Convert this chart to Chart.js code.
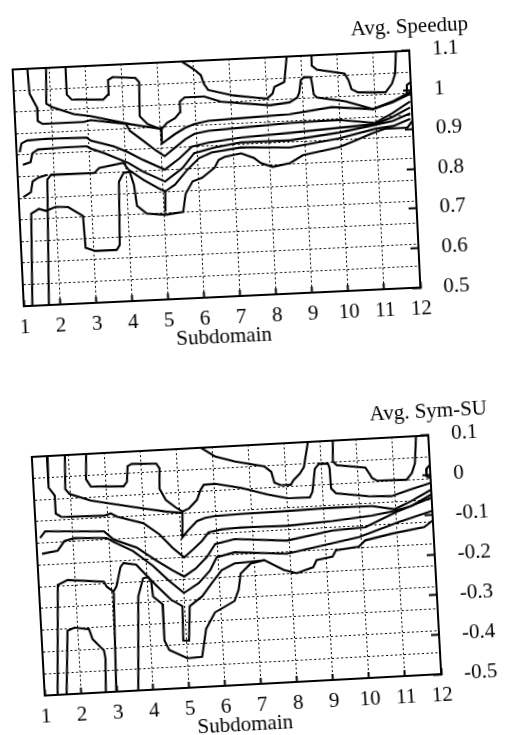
<!DOCTYPE html>
<html><head><meta charset="utf-8">
<script src="https://cdn.jsdelivr.net/npm/chart.js@4.4.1/dist/chart.umd.min.js"></script>
<style>
html,body{margin:0;padding:0;background:#fff;width:505px;height:735px;overflow:hidden;position:relative;}
.wrap{position:absolute;left:0;top:0;}
canvas{display:block;}
</style></head><body>
<div class="wrap" id="w1"><canvas id="c1" width="483" height="338"></canvas></div>
<div class="wrap" id="w2"><canvas id="c2" width="483" height="340"></canvas></div>
<script>
// ---- axes / ticks ----
const subdomains = [1,2,3,4,5,6,7,8,9,10,11,12];
const speedupTicks = [0.5,0.6,0.7,0.8,0.9,1.0,1.1];
const speedupTickLabels = ['0.5','0.6','0.7','0.8','0.9','1','1.1'];
const symTicks = [-0.5,-0.4,-0.3,-0.2,-0.1,0,0.1];
const symTickLabels = ['-0.5','-0.4','-0.3','-0.2','-0.1','0','0.1'];

// ---- Avg. Speedup contour lines [subdomain, value] ----
const spLine1 = [[5.67,1.1],[6.01,1.078],[6.2,1.062],[6.27,1.04],[6.38,1.024],[7.08,1.007],[7.67,0.999],[8.0,0.995],[8.16,1.007],[8.22,1.024],[8.5,1.035],[8.6,1.1]];
const spLine2 = [[9.29,1.1],[9.28,1.073],[9.42,1.062],[10.18,1.049],[10.28,1.032],[10.35,1.009],[10.53,1.0],[11.29,0.997],[11.48,1.018],[11.58,1.043],[11.63,1.1]];
const spLine3 = [[2.46,1.1],[2.46,1.029],[2.59,1.016],[3.46,1.012],[3.6,1.024],[3.62,1.061],[3.75,1.068],[4.38,1.063],[4.48,1.052],[4.45,0.966],[4.66,0.945],[4.93,0.934],[5.04,0.931],[5.2,0.946],[5.43,0.957],[5.57,0.971],[5.58,0.998],[5.72,1.008],[6.26,1.008],[6.72,0.993],[8.07,0.978],[8.62,0.983],[8.84,0.994],[8.9,1.006],[8.96,1.038],[9.05,1.045],[9.24,1.044],[9.26,1.032],[9.3,1.0],[9.38,0.992],[10.17,0.979],[10.92,0.956],[11.47,0.971],[12,0.991]];
const spLine4 = [[1.92,1.1],[1.88,1.009],[2.04,0.999],[2.63,0.979],[3.09,0.972],[4.17,0.947],[4.66,0.938],[5.04,0.931],[5.03,0.894],[5.41,0.917],[5.69,0.931],[5.96,0.94],[6.35,0.946],[7.24,0.949],[8.61,0.953],[9.78,0.966],[10.92,0.956],[11.47,0.973],[12,0.996]];
const spLine5 = [[1.4,1.1],[1.43,1.036],[1.63,0.998],[1.62,0.966],[1.75,0.958],[2.9,0.958],[3.09,0.962],[4.06,0.948],[4.16,0.93],[4.51,0.904],[4.85,0.878],[5.09,0.862],[5.4,0.883],[5.68,0.902],[5.95,0.915],[6.34,0.921],[7.24,0.925],[8.6,0.931],[9.96,0.933],[10.96,0.921],[11.46,0.944],[11.96,0.971]];
const spLine6 = [[1.08,0.889],[1.14,0.911],[1.3,0.918],[1.88,0.92],[2.96,0.918],[3.07,0.91],[3.69,0.893],[4.09,0.876],[4.49,0.855],[5.08,0.828],[5.5,0.855],[5.86,0.883],[6.33,0.891],[7.23,0.9],[8.59,0.906],[9.95,0.913],[10.96,0.918],[11.46,0.934],[11.95,0.956]];
const spLine7 = [[1.15,0.857],[1.37,0.863],[1.43,0.885],[1.59,0.894],[2.33,0.896],[2.95,0.896],[3.06,0.89],[3.41,0.877],[4.08,0.849],[4.48,0.825],[5.07,0.798],[5.57,0.83],[5.91,0.866],[6.48,0.878],[7.22,0.888],[8.58,0.887],[9.95,0.901],[10.96,0.916],[11.46,0.924],[11.95,0.941]];
const spLine8 = [[1.69,0.5],[1.81,0.817],[1.92,0.829],[3.12,0.828],[3.26,0.84],[3.94,0.85],[4.07,0.832],[4.47,0.805],[4.87,0.782],[5.06,0.773],[5.04,0.722],[5.06,0.773],[5.34,0.789],[5.7,0.825],[6.04,0.853],[6.4,0.866],[7.22,0.875],[8.57,0.869],[9.94,0.886],[10.95,0.906],[11.46,0.911],[11.94,0.927]];
const spLine9 = [[1.23,0.5],[1.32,0.733],[1.54,0.744],[1.73,0.738],[2.0,0.747],[2.35,0.745],[2.75,0.721],[2.78,0.64],[3.05,0.631],[3.64,0.631],[3.73,0.643],[3.79,0.803],[3.93,0.825],[4.1,0.827],[4.2,0.794],[4.26,0.74],[4.52,0.719],[5.04,0.714],[5.53,0.719],[5.62,0.764],[5.83,0.795],[6.1,0.803],[6.46,0.827],[6.58,0.846],[6.75,0.853],[7.21,0.86],[7.56,0.847],[7.75,0.833],[8.07,0.822],[8.56,0.83],[8.92,0.848],[9.93,0.864],[10.4,0.879],[10.84,0.894],[11.23,0.905],[11.85,0.905],[12,0.922]];
const spLine10 = [[1.12,0.775],[1.34,0.787],[1.4,0.814],[1.57,0.823],[1.82,0.829]];
const spLine11 = [[12,1.02],[11.89,1.013],[11.88,0.991],[12,0.988]];

// ---- Avg. Sym-SU contour lines [subdomain, value] ----
const ssLine1 = [[5.67,0.1],[6.07,0.075],[6.6,0.06],[7.41,0.044],[7.6,0.029],[7.67,0.002],[7.83,-0.005],[8.12,-0.006],[8.2,0.005],[8.39,0.021],[8.51,0.037],[8.66,0.1]];
const ssLine2 = [[9.35,0.1],[9.32,0.047],[9.42,0.037],[10.21,0.027],[10.31,0.012],[10.38,0.0],[10.51,-0.007],[11.33,-0.009],[11.49,0.007],[11.59,0.031],[11.66,0.1]];
const ssLine3 = [[2.5,0.1],[2.46,0.036],[2.58,0.017],[3.49,0.013],[3.59,0.024],[3.63,0.063],[3.75,0.068],[4.43,0.065],[4.51,0.053],[4.48,0.002],[4.64,-0.027],[4.9,-0.047],[5.08,-0.058],[5.27,-0.051],[5.5,-0.031],[5.61,-0.007],[5.71,0.006],[6.03,0.007],[6.74,-0.007],[7.46,-0.027],[8.0,-0.039],[8.63,-0.04],[8.71,-0.026],[8.81,0.031],[8.93,0.043],[9.18,0.042],[9.22,0.03],[9.23,-0.02],[9.36,-0.033],[10.26,-0.045],[10.89,-0.048],[11.35,-0.036],[12,-0.02]];
const ssLine4 = [[1.91,0.1],[1.87,0.014],[1.98,0.001],[2.56,-0.018],[2.92,-0.025],[4.0,-0.045],[4.63,-0.056],[5.08,-0.062],[5.04,-0.123],[5.19,-0.108],[5.47,-0.084],[5.7,-0.077],[5.98,-0.074],[6.7,-0.072],[7.98,-0.071],[9.25,-0.069],[10.34,-0.07],[10.96,-0.081],[11.43,-0.063],[12,-0.037]];
const ssLine5 = [[1.43,0.1],[1.41,0.02],[1.57,-0.001],[1.57,-0.046],[1.72,-0.055],[2.9,-0.058],[3.09,-0.053],[3.26,-0.062],[3.98,-0.082],[4.41,-0.112],[4.75,-0.147],[5.06,-0.173],[5.34,-0.153],[5.58,-0.134],[5.77,-0.114],[6.14,-0.108],[6.68,-0.106],[7.95,-0.108],[9.23,-0.102],[10.32,-0.094],[10.96,-0.085],[11.43,-0.075],[12,-0.049]];
const ssLine6 = [[1.1,-0.105],[1.25,-0.089],[2.88,-0.097],[3.14,-0.119],[3.76,-0.142],[4.28,-0.177],[4.72,-0.204],[5.03,-0.221],[5.36,-0.203],[5.69,-0.175],[5.94,-0.144],[6.49,-0.134],[7.93,-0.145],[9.21,-0.126],[10.12,-0.122],[10.98,-0.089],[12,-0.057]];
const ssLine7 = [[1.13,-0.145],[1.57,-0.139],[1.77,-0.116],[2.05,-0.11],[2.94,-0.114],[3.13,-0.125],[3.65,-0.15],[4.18,-0.19],[4.61,-0.23],[5.0,-0.262],[5.42,-0.24],[5.76,-0.209],[5.96,-0.177],[6.47,-0.167],[7.91,-0.178],[8.74,-0.165],[9.93,-0.146],[11.04,-0.114],[12,-0.09]];
const ssLine8 = [[1.35,-0.5],[1.52,-0.225],[1.8,-0.214],[2.8,-0.223],[2.87,-0.236],[3.05,-0.249],[3.14,-0.237],[3.28,-0.189],[3.37,-0.179],[3.72,-0.185],[4.2,-0.235],[4.63,-0.277],[4.94,-0.295],[4.91,-0.381],[5.07,-0.382],[5.14,-0.296],[5.5,-0.273],[5.79,-0.241],[6.08,-0.21],[6.45,-0.195],[6.9,-0.193],[7.27,-0.191]];
const ssLine9 = [[3.59,-0.5],[3.73,-0.265],[3.89,-0.22],[4.03,-0.217],[4.11,-0.229],[4.14,-0.267],[4.4,-0.288],[4.39,-0.378],[4.51,-0.403],[5.0,-0.426],[5.41,-0.424],[5.48,-0.392],[5.56,-0.355],[5.83,-0.315],[6.39,-0.289],[6.52,-0.261],[6.6,-0.221],[6.9,-0.197],[7.27,-0.191],[7.8,-0.218],[8.15,-0.228],[8.62,-0.215],[8.72,-0.198],[9.17,-0.191],[9.27,-0.176],[9.91,-0.17],[10.1,-0.155],[10.84,-0.142],[11.75,-0.13],[12,-0.114]];
const ssLine10 = [[1.6,-0.5],[1.72,-0.341],[1.92,-0.334],[2.32,-0.34],[2.4,-0.365],[2.7,-0.395],[2.73,-0.416],[2.69,-0.5]];
const ssLine11 = [[12,0.025],[11.91,0.017],[11.89,-0.003],[12,-0.008]];
const ssLine12 = [[2.98,-0.5],[3.04,-0.3],[3.06,-0.252]];

const speedupLines = [spLine1,spLine2,spLine3,spLine4,spLine5,spLine6,spLine7,spLine8,spLine9,spLine10,spLine11];
const symLines = [ssLine1,ssLine2,ssLine3,ssLine4,ssLine5,ssLine6,ssLine7,ssLine8,ssLine9,ssLine10,ssLine11,ssLine12];

const FONT = {family: "'Liberation Serif','Times New Roman',serif", size: 21, weight: 'normal'};

function makeChart(canvasId, wrapId, titleText, ticksArr, tickLabels, lines, place) {
  const datasets = lines.map(pts => ({
    data: pts.map(p => ({x: p[0], y: p[1]})),
    borderColor: '#000', borderWidth: 2.1, pointRadius: 0, fill: false, tension: 0,
    xAxisID: 'x', yAxisID: 'y'
  }));
  const yMin = ticksArr[0], yMax = ticksArr[ticksArr.length - 1];
  const chart = new Chart(document.getElementById(canvasId), {
    type: 'line',
    data: {datasets},
    options: {
      responsive: false, animation: false, events: [],
      layout: {padding: {left: 12, right: 6, top: 4, bottom: 4}},
      plugins: {
        legend: {display: false}, tooltip: {enabled: false},
        title: {display: true, text: titleText, align: 'end', color: '#000', font: FONT, padding: {top: 0, bottom: 11}}
      },
      scales: {
        x: {
          type: 'linear', position: 'bottom', min: 1, max: 12,
          afterBuildTicks: s => { s.ticks = subdomains.map(v => ({value: v})); },
          ticks: {color: '#000', font: FONT, padding: 15, maxRotation: 0, autoSkip: false, callback: (v) => String(v)},
          grid: {color: '#000', lineWidth: 1, drawTicks: true, tickLength: -6, tickWidth: 2, tickColor: '#000'},
          border: {display: true, color: '#000', width: 2, dash: [2, 2.5]},
          title: {display: true, text: 'Subdomain', color: '#000', font: FONT, padding: {top: 0, bottom: 0}},
          afterFit: s => { s.height = 53; }
        },
        xt: {
          type: 'linear', position: 'top', min: 1, max: 12,
          ticks: {display: false}, grid: {display: false, drawTicks: false},
          border: {display: true, color: '#000', width: 2},
          afterFit: s => { s.height = 0; }
        },
        yg: {
          type: 'linear', position: 'left', min: 0, max: 11,
          ticks: {display: false, stepSize: 1},
          grid: {color: '#000', lineWidth: 1, drawTicks: false},
          border: {display: true, color: '#000', width: 2, dash: [2, 2.5]},
          afterFit: s => { s.width = 0; }
        },
        y: {
          type: 'linear', position: 'right', min: yMin, max: yMax,
          afterBuildTicks: s => { s.ticks = ticksArr.map(v => ({value: v})); },
          ticks: {color: '#000', font: FONT, padding: 31, callback: (v, i) => tickLabels[i]},
          grid: {display: true, drawOnChartArea: false, drawTicks: true, tickLength: -8, tickWidth: 2, tickColor: '#000', color: '#000'},
          border: {display: true, color: '#000', width: 2},
          afterFit: s => { s.width = 60; }
        }
      }
    }
  });
  const ca = chart.chartArea;
  const cx = (ca.left + ca.right) / 2, cy = (ca.top + ca.bottom) / 2;
  const w = document.getElementById(wrapId);
  w.style.left = (place.x - cx) + 'px';
  w.style.top = (place.y - cy) + 'px';
  w.style.transformOrigin = cx + 'px ' + cy + 'px';
  w.style.transform = 'rotate(' + place.angle + 'deg)';
  return chart;
}

makeChart('c1', 'w1', 'Avg. Speedup', speedupTicks, speedupTickLabels, speedupLines, {x: 216.5, y: 178.3, angle: -2.7});
makeChart('c2', 'w2', 'Avg. Sym-SU', symTicks, symTickLabels, symLines, {x: 236.5, y: 564.8, angle: -3.1});
</script>
</body></html>
